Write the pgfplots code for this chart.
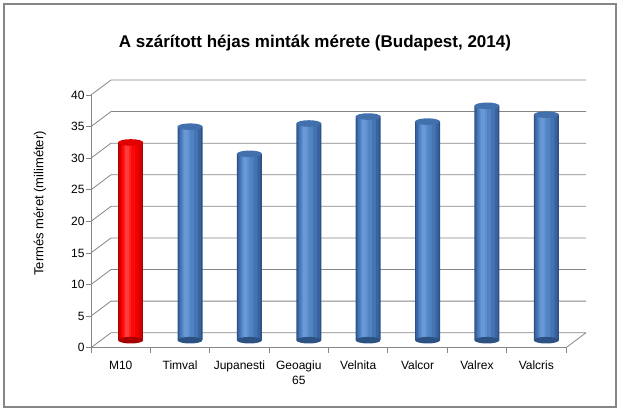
\documentclass[border=0pt]{standalone}
\usepackage{fontspec}
\setmainfont{Liberation Sans}
\usepackage{pgfplots}
\usepackage{pgfplotstable}
\pgfplotsset{compat=1.18}
\usetikzlibrary{shapes.geometric}
\definecolor{gridc}{HTML}{868686}
% blue cylinder tones (edge -> highlight)
\definecolor{b1}{HTML}{2C5183}
\definecolor{b2}{HTML}{3862A0}
\definecolor{b3}{HTML}{4574B3}
\definecolor{b4}{HTML}{5183C2}
\definecolor{b5}{HTML}{5D8FCE}
\definecolor{b6}{HTML}{6899D6}
\definecolor{bT}{HTML}{4170AD}
% red cylinder tones
\definecolor{r1}{HTML}{A80000}
\definecolor{r2}{HTML}{D00000}
\definecolor{r3}{HTML}{F00000}
\definecolor{r4}{HTML}{FF0808}
\definecolor{r5}{HTML}{FF2020}
\definecolor{r6}{HTML}{FF3C3C}
\definecolor{rT}{HTML}{E00000}
\pgfplotstableread{
x y
0 31.3
}\redtab
\pgfplotstableread{
x y
1 33.8
2 29.5
3 34.3
4 35.4
5 34.6
6 37.1
7 35.7
}\bluetab
\pgfplotsset{
  cyl/.style n args={3}{ybar, bar width=#1, bar shift=#2, fill=#3, draw=none, xshift=10pt, yshift=7.5pt},
  ell/.style={only marks, mark=*, mark size=0pt, mark options={draw=none,fill=none}, nodes near coords={},
    every node near coord/.append style={ellipse, minimum width=25pt, minimum height=6.6pt, inner sep=0pt, draw=none, anchor=center, xshift=10pt, yshift=7.5pt, #1}},
}
\begin{document}
\begin{tikzpicture}
\useasboundingbox (0,0) rectangle (624pt,415pt);
\draw[color=gridc, line width=1.2pt] (4pt,8pt) rectangle (616pt,411pt);
\begin{axis}[
  at={(91pt,67.3pt)}, anchor=south west,
  scale only axis, width=475pt, height=252.7pt,
  xmin=-0.5, xmax=7.5, ymin=0, ymax=40,
  clip=false,
  axis x line=bottom, axis y line=left,
  axis line style={gridc, line width=0.8pt, -},
  ytick={0,5,10,15,20,25,30,35,40},
  ytick style={gridc, line width=0.8pt},
  tick align=outside, major tick length=5pt,
  xtick={0,1,2,3,4,5,6,7},
  xtick style={draw=none},
  xticklabels={M10,Timval,Jupanesti,{Geoagiu\\65},Velnita,Valcor,Valrex,Valcris},
  xticklabel style={align=center, font=\fontsize{12}{15}\selectfont, yshift=-5pt},
  yticklabel style={font=\fontsize{12}{14}\selectfont, xshift=2pt},
  /pgf/number format/assume math mode=true,
  ylabel={Termés méret (miliméter)},
  every axis y label/.style={at={(axis description cs:0,0.5)}, xshift=-51pt, yshift=18pt, rotate=90, anchor=center, font=\fontsize{13}{15}\selectfont},
]
% 3D walls: side-wall diagonals and back-wall gridlines
\pgfplotsinvokeforeach{0,5,10,15,20,25,30,35,40}{
  \draw[gridc, line width=0.8pt] (axis cs:-0.5,#1) -- ([shift={(20pt,15pt)}]axis cs:-0.5,#1) -- ([shift={(20pt,15pt)}]axis cs:7.5,#1);
}
\draw[gridc, line width=0.8pt] (axis cs:7.5,0) -- ([shift={(20pt,15pt)}]axis cs:7.5,0);
\pgfplotsinvokeforeach{-0.5,0.5,1.5,2.5,3.5,4.5,5.5,6.5,7.5}{
  \draw[gridc, line width=0.8pt] (axis cs:#1,0) -- ([yshift=-5pt]axis cs:#1,0);
}
% bottom ellipses
\addplot[ell={left color=r1, middle color=r4, right color=r1}] coordinates {(0,0)};
\addplot[ell={left color=b1, middle color=b4, right color=b1}] coordinates {(1,0) (2,0) (3,0) (4,0) (5,0) (6,0) (7,0)};
% cylinder bodies (layered strips give the rounded shading)
\addplot[cyl={25pt}{0pt}{r1}] table[x=x,y=y] {\redtab};
\addplot[cyl={22.5pt}{-0.25pt}{r2}] table[x=x,y=y] {\redtab};
\addplot[cyl={18pt}{-1pt}{r3}] table[x=x,y=y] {\redtab};
\addplot[cyl={12.5pt}{-2.25pt}{r4}] table[x=x,y=y] {\redtab};
\addplot[cyl={7pt}{-3.5pt}{r5}] table[x=x,y=y] {\redtab};
\addplot[cyl={4pt}{-4pt}{r6}] table[x=x,y=y] {\redtab};
\addplot[cyl={25pt}{0pt}{b1}] table[x=x,y=y] {\bluetab};
\addplot[cyl={22.5pt}{-0.25pt}{b2}] table[x=x,y=y] {\bluetab};
\addplot[cyl={18pt}{-1pt}{b3}] table[x=x,y=y] {\bluetab};
\addplot[cyl={12.5pt}{-2.25pt}{b4}] table[x=x,y=y] {\bluetab};
\addplot[cyl={7pt}{-3.5pt}{b5}] table[x=x,y=y] {\bluetab};
\addplot[cyl={4pt}{-4pt}{b6}] table[x=x,y=y] {\bluetab};
% top ellipses
\addplot[ell={fill=rT}] table[x=x,y=y] {\redtab};
\addplot[ell={fill=bT}] table[x=x,y=y] {\bluetab};
\end{axis}
\node[font=\bfseries\fontsize{17}{20}\selectfont] at (315pt,371.7pt) {A szárított héjas minták mérete (Budapest, 2014)};
\end{tikzpicture}
\end{document}
